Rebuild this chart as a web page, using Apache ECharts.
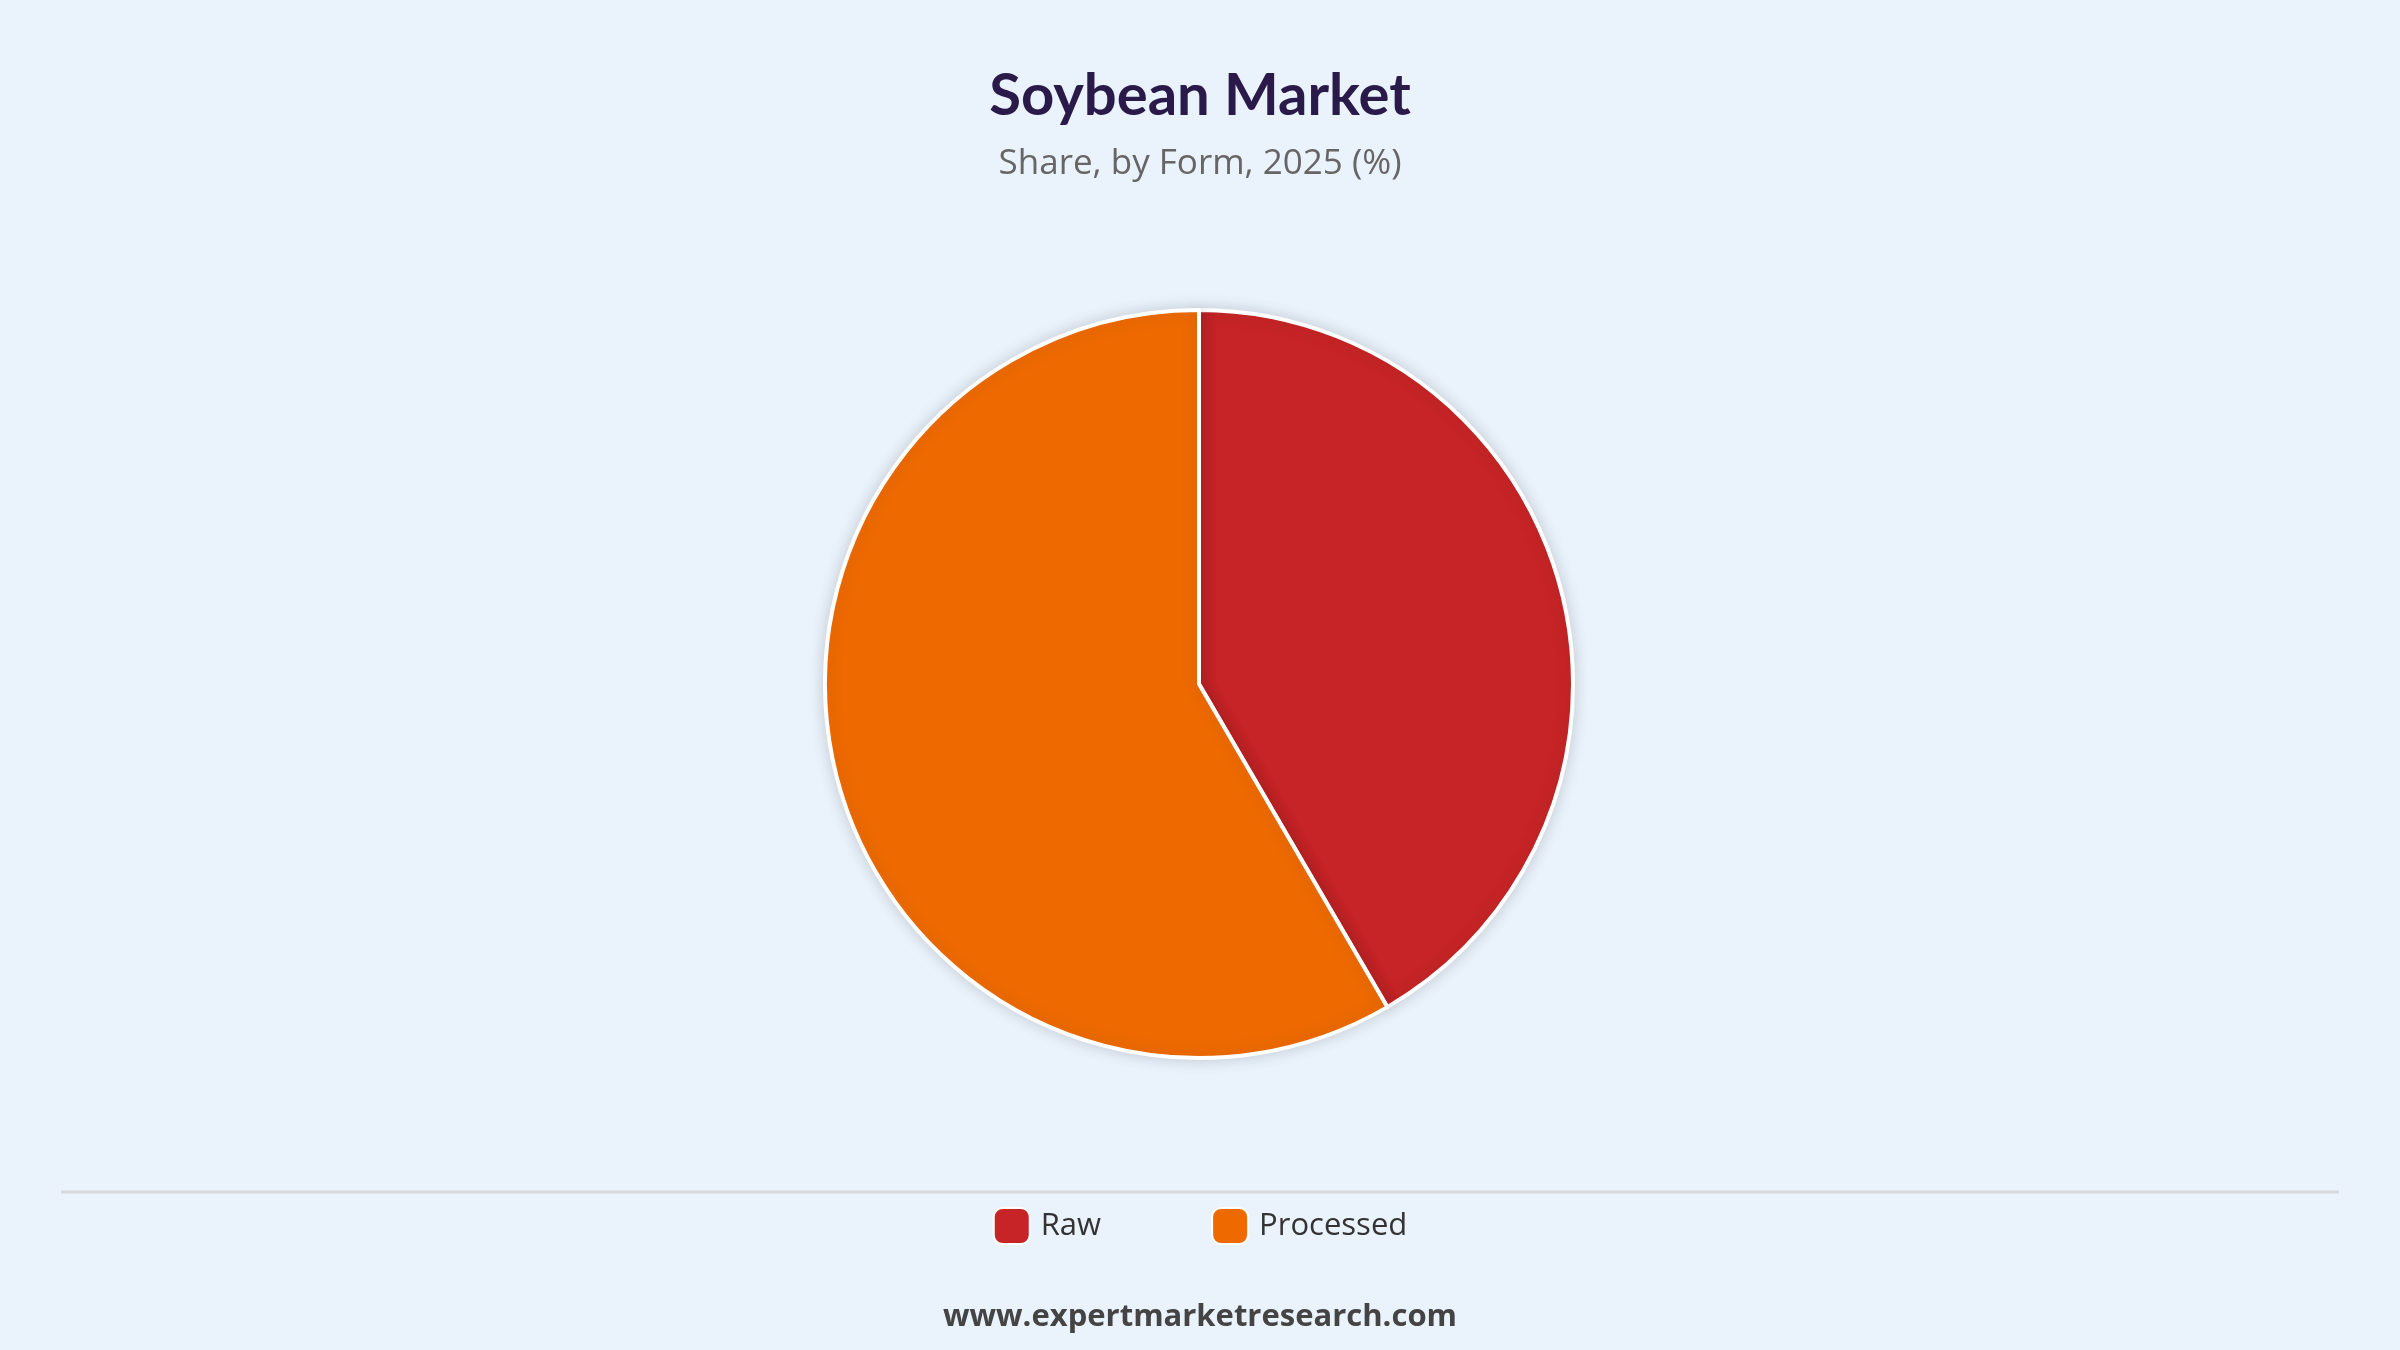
<!DOCTYPE html>
<html><head><meta charset="utf-8">
<script src="https://cdn.jsdelivr.net/npm/echarts@6/dist/echarts.min.js"></script>
<style>html,body{margin:0;padding:0;background:#EAF2FB}#c{width:2400px;height:1350px}</style>
</head><body><div id="c"></div>
<script>
const categories = ["Raw", "Processed"];
const values = [41.6, 58.4];
const colors = ["#C62426", "#EE6A00"];

const chart = echarts.init(document.getElementById('c'));
chart.setOption({
  backgroundColor: '#EAF2FB',
  title: {
    text: 'Soybean Market',
    subtext: 'Share, by Form, 2025 (%)',
    left: 'center', top: 62, itemGap: 22,
    textStyle: {fontFamily: 'Lato', fontWeight: 'bold', fontSize: 58, color: '#2A1A4A'},
    subtextStyle: {fontFamily: 'Open Sans', fontSize: 35, color: '#666666'}
  },
  legend: {
    data: categories, bottom: 100, left: 'center', itemGap: 110,
    itemWidth: 36, itemHeight: 36, icon: 'roundRect',
    textStyle: {fontFamily: 'Open Sans', fontSize: 31, color: '#333', padding: [0,0,0,6]}
  },
  graphic: [
    {type: 'line', shape: {x1: 61, y1: 1192, x2: 2339, y2: 1192}, style: {stroke: '#D6D9DE', lineWidth: 3}},
    {type: 'text', left: 'center', top: 1302, style: {text: 'www.expertmarketresearch.com', font: 'bold 31px "Open Sans"', fill: '#444'}}
  ],
  series: [{
    type: 'pie', center: [1199, 684], radius: 374, startAngle: 90, clockwise: true,
    label: {show: false}, labelLine: {show: false},
    itemStyle: {borderColor: '#fff', borderWidth: 4, shadowBlur: 16, shadowColor: 'rgba(0,0,0,0.15)'},
    data: categories.map((n, i) => ({name: n, value: values[i], itemStyle: {color: colors[i]}}))
  }]
});
</script></body></html>
